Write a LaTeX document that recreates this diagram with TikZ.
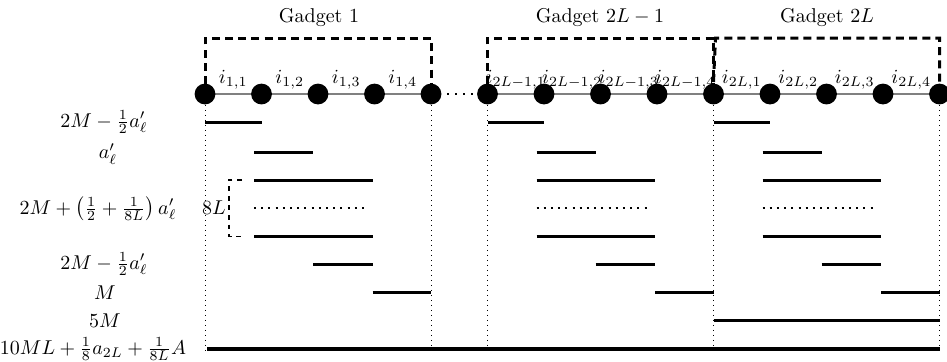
\documentclass[tikz,border=0pt]{standalone}
\usetikzlibrary{calc}
\begin{document}
\begin{tikzpicture}[x=0.5pt,y=-0.5pt,
  dot/.style={circle,fill=black,inner sep=0pt,minimum size=10.4pt},
  edge/.style={draw=black!50,line width=0.7pt},
  gapedge/.style={draw=black,line width=0.8pt,dash pattern=on 0.8pt off 3.2pt},
  gbox/.style={draw=black,line width=1.5pt,dash pattern=on 4pt off 2.6pt},
  vdot/.style={draw=black,line width=0.5pt,dash pattern=on 0.5pt off 2pt},
  bar/.style={draw=black,line width=1.5pt},
  bigbar/.style={draw=black,line width=1.7pt},
  dotbar/.style={draw=black,line width=1.3pt,dash pattern=on 1pt off 2.6pt},
  brack/.style={draw=black,line width=0.9pt,dash pattern=on 2.4pt off 2.4pt},
  lab/.style={inner sep=0pt,anchor=center},
  ilab/.style={inner sep=0pt,anchor=base}]
\useasboundingbox (0,0) rectangle (947,361);
% nodes
\foreach \k in {0,...,13} { \coordinate (p\k) at ({205+56.5*\k},94); }
\foreach \k [evaluate=\k as \kn using int(\k+1)] in {0,1,2,3,5,6,7,8,9,10,11,12} {
  \draw[edge] (p\k) -- (p\kn);
}
\draw[gapedge] (p4) -- (p5);
\foreach \k in {0,...,13} { \node[dot] (n\k) at (p\k) {}; }
% node labels
\foreach \k/\t in {0/{1,1},1/{1,2},2/{1,3},3/{1,4},5/{2L-1,1},6/{2L-1,2},7/{2L-1,3},8/{2L-1,4},9/{2L,1},10/{2L,2},11/{2L,3},12/{2L,4}} {
  \node[ilab] (l\k) at ({205+56.5*\k+28.25},83) {$i_{\t}$};
}
% gadget boxes
\coordinate (t0) at (205,38);
\draw[gbox] ($(n0)+(0,-10)$) -- (n0 |- t0) -- (n4 |- t0) -- ($(n4)+(0,-9)$);
\draw[gbox] ($(n5)+(0,-10)$) -- (n5 |- t0) -- (n9 |- t0) -- ($(n9)+(0,-9)$);
\draw[gbox] ($(n9)+(0,-12)$) -- ($(n9 |- t0)+(2,0)$) -- (n13 |- t0) -- ($(n13)+(0,-12)$);
\node[lab] (g1) at (319,18) {Gadget 1};
\node[lab] (g2) at (600,18) {Gadget $2L-1$};
\node[lab] (g3) at (827,18) {Gadget $2L$};
% vertical dotted lines
\coordinate (bot) at (0,352);
\foreach \k in {0,4,5,9,13} { \draw[vdot] (n\k.south) -- (n\k |- bot); }
% bars per gadget
\foreach \g in {0,5,9} {
  \begin{scope}[shift={(56.5*\g,0)}]
    \draw[bar] (205,122) -- (261.5,122);
    \draw[bar] (254,152) -- (313,152);
    \draw[bar] (254,180) -- (372.5,180);
    \draw[dotbar] (254,208) -- (369,208);
    \draw[bar] (254,236.5) -- (372.5,236.5);
    \draw[bar] (313,264) -- (372.5,264);
    \draw[bar] (372.5,292) -- (431,292);
  \end{scope}
}
\draw[bar] (n9 |- 0,320.5) -- (n13 |- 0,320.5);
\draw[bigbar] (207,349) -- (n13 |- 0,349);
% bracket
\node[lab] (e8) at (214,208) {$8L$};
\draw[brack] (242,180) -- (229,180) -- (229,236.5) -- (242,236.5);
% row labels
\node[lab] (r1) at (104,122) {$2M-\frac{1}{2}a'_\ell$};
\node[lab] (r2) at (108,154) {$a'_\ell$};
\node[lab] (r3) at (98,209) {$2M+\left(\frac{1}{2}+\frac{1}{8L}\right)a'_\ell$};
\node[lab] (r4) at (104,264) {$2M-\frac{1}{2}a'_\ell$};
\node[lab] (r5) at (105,293) {$M$};
\node[lab] (r6) at (105,321) {$5M$};
\node[lab] (r7) at (93,349) {$10ML+\frac{1}{8}a_{2L}+\frac{1}{8L}A$};
\end{tikzpicture}
\end{document}
